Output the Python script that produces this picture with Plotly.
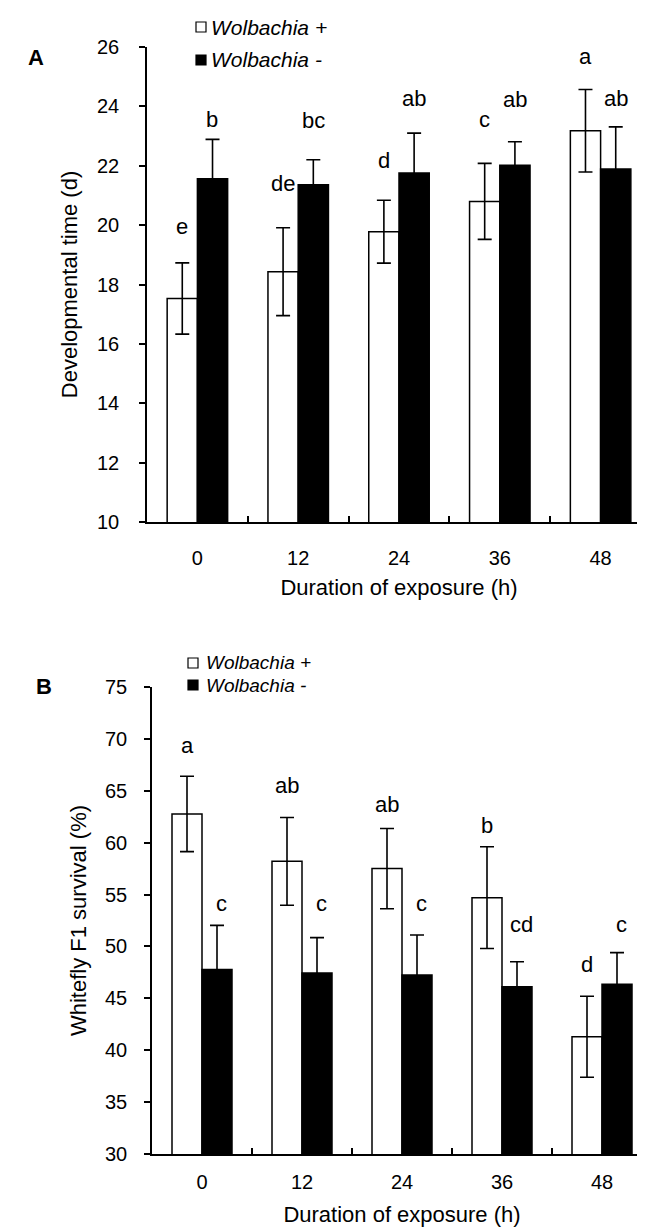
import plotly.graph_objects as go

# ---------------- data ----------------
durations = ["0", "12", "24", "36", "48"]

dev_plus = [17.53, 18.43, 19.78, 20.80, 23.18]
dev_plus_sd = [1.20, 1.48, 1.06, 1.28, 1.39]
dev_minus = [21.56, 21.36, 21.76, 22.02, 21.89]
dev_minus_sd = [1.33, 0.84, 1.34, 0.79, 1.42]
dev_plus_letters = ["e", "de", "d", "c", "a"]
dev_minus_letters = ["b", "bc", "ab", "ab", "ab"]

surv_plus = [62.77, 58.20, 57.50, 54.70, 41.30]
surv_plus_sd = [3.63, 4.23, 3.87, 4.90, 3.90]
surv_minus = [47.79, 47.43, 47.24, 46.12, 46.35]
surv_minus_sd = [4.24, 3.42, 3.86, 2.40, 3.05]
surv_plus_letters = ["a", "ab", "ab", "b", "d"]
surv_minus_letters = ["c", "c", "c", "cd", "c"]

legend_names = ["Wolbachia +", "Wolbachia -"]

# ---------------- layout helpers ----------------
W, H = 645, 1227
FONT = "Liberation Sans, Arial, sans-serif"
TICK_SIZE = 20
TITLE_SIZE = 22
LETTER_SIZE = 22


def px(x, y):
    return x / W, 1 - y / H


# letter label spacing above the error bar tops (pixels, layout only)
shift_a_plus = [28, 36, 31, 35, 24]
shift_a_minus = [11, 31, 26, 34, 20]
shift_b_plus = [22, 23, 15, 13, 23]
shift_b_minus = [13, 26, 23, 29, 20]

fig = go.Figure()


def add_panel(xa, ya, plus, plus_sd, minus, minus_sd):
    fig.add_trace(go.Bar(
        x=durations, y=plus, name=legend_names[0], xaxis=xa, yaxis=ya,
        marker=dict(color="white", line=dict(color="black", width=1.5)),
        error_y=dict(type="data", array=plus_sd, visible=True,
                     color="black", thickness=1.6, width=7),
        showlegend=False,
    ))
    fig.add_trace(go.Bar(
        x=durations, y=minus, name=legend_names[1], xaxis=xa, yaxis=ya,
        marker=dict(color="black", line=dict(color="black", width=1.5)),
        error_y=dict(type="data", array=minus_sd, visible=True,
                     color="black", thickness=1.6, width=7),
        showlegend=False,
    ))


add_panel("x", "y", dev_plus, dev_plus_sd, dev_minus, dev_minus_sd)
add_panel("x2", "y2", surv_plus, surv_plus_sd, surv_minus, surv_minus_sd)

annotations = []


def add_letters(xref, yref, vals, sds, letters, shifts, xoff):
    for i, (v, s, l, sh) in enumerate(zip(vals, sds, letters, shifts)):
        annotations.append(dict(
            x=i, y=v + s, xref=xref, yref=yref, text=l, showarrow=False,
            xanchor="center", yanchor="bottom", xshift=xoff, yshift=sh - 6,
            font=dict(family=FONT, size=LETTER_SIZE, color="black"),
        ))


add_letters("x", "y", dev_plus, dev_plus_sd, dev_plus_letters, shift_a_plus, -15)
add_letters("x", "y", dev_minus, dev_minus_sd, dev_minus_letters, shift_a_minus, 15)
add_letters("x2", "y2", surv_plus, surv_plus_sd, surv_plus_letters, shift_b_plus, -15)
add_letters("x2", "y2", surv_minus, surv_minus_sd, surv_minus_letters, shift_b_minus, 19)

# panel letters
for lab, (cx, cy) in [("A", (28, 50)), ("B", (36, 678))]:
    x, y = px(cx, cy)
    annotations.append(dict(x=x, y=y, xref="paper", yref="paper", text="<b>%s</b>" % lab,
                            showarrow=False, xanchor="center", yanchor="middle",
                            font=dict(family=FONT, size=22, color="black")))

# custom legends (boxes + italic labels)
shapes = []
legend_rows = [
    # (font size, [(box x0, box y0, size, text x, text center y), ...])
    (21, [(188, 14, 10, 202, 19), (188, 47, 10, 202, 51)]),
    (19, [(180, 650, 10, 197, 654), (180, 672, 10, 197, 677)]),
]
for fsize, rows in legend_rows:
    for i, (bx, by, bs, tx, ty) in enumerate(rows):
        x0, y0 = px(bx, by + bs)
        x1, y1 = px(bx + bs, by)
        shapes.append(dict(type="rect", xref="paper", yref="paper",
                           x0=x0, y0=y0, x1=x1, y1=y1,
                           line=dict(color="black", width=1.2),
                           fillcolor="white" if i == 0 else "black"))
        x, y = px(tx, ty)
        annotations.append(dict(x=x, y=y, xref="paper", yref="paper",
                                text="<i>%s</i>" % legend_names[i], showarrow=False,
                                xanchor="left", yanchor="middle", borderpad=0,
                                font=dict(family=FONT, size=fsize, color="black")))

axis_common = dict(showgrid=False, zeroline=False, showline=True, linecolor="black",
                   linewidth=1.6, tickcolor="black", tickwidth=1.6,
                   tickfont=dict(family=FONT, size=TICK_SIZE, color="black"))

xa0, ya0 = px(139, 514)
xa1, ya1 = px(643, 39)
xb0, yb0 = px(144, 1146)
xb1, yb1 = px(644, 679)

fig.update_layout(
    width=W, height=H,
    margin=dict(l=0, r=0, t=0, b=0),
    paper_bgcolor="white", plot_bgcolor="white",
    barmode="group", bargap=0.4, bargroupgap=0,
    font=dict(family=FONT, color="black"),
    xaxis=dict(domain=[xa0, xa1], anchor="y", type="category", range=[-0.5, 4.5],
               tickson="boundaries", ticks="inside", ticklen=6,
               ticklabelstandoff=17, tickangle=0,
               title=dict(text="Duration of exposure (h)", standoff=12,
                          font=dict(family=FONT, size=TITLE_SIZE, color="black")),
               automargin=False, **axis_common),
    yaxis=dict(domain=[ya0, ya1], anchor="x", range=[10, 26], dtick=2,
               ticks="outside", ticklen=6, ticklabelstandoff=16,
               title=dict(text="Developmental time (d)", standoff=13,
                          font=dict(family=FONT, size=TITLE_SIZE, color="black")),
               automargin=False, **axis_common),
    xaxis2=dict(domain=[xb0, xb1], anchor="y2", type="category", range=[-0.5, 4.5],
                tickson="boundaries", ticks="inside", ticklen=6,
                ticklabelstandoff=9, tickangle=0,
                title=dict(text="Duration of exposure (h)", standoff=15,
                           font=dict(family=FONT, size=TITLE_SIZE, color="black")),
                automargin=False, **axis_common),
    yaxis2=dict(domain=[yb0, yb1], anchor="x2", range=[30, 75], dtick=5,
                ticks="outside", ticklen=6, ticklabelstandoff=13,
                title=dict(text="Whitefly F1 survival (%)", standoff=12,
                           font=dict(family=FONT, size=TITLE_SIZE, color="black")),
                automargin=False, **axis_common),
    annotations=annotations,
    shapes=shapes,
    showlegend=False,
)

fig.write_html("out.html")
